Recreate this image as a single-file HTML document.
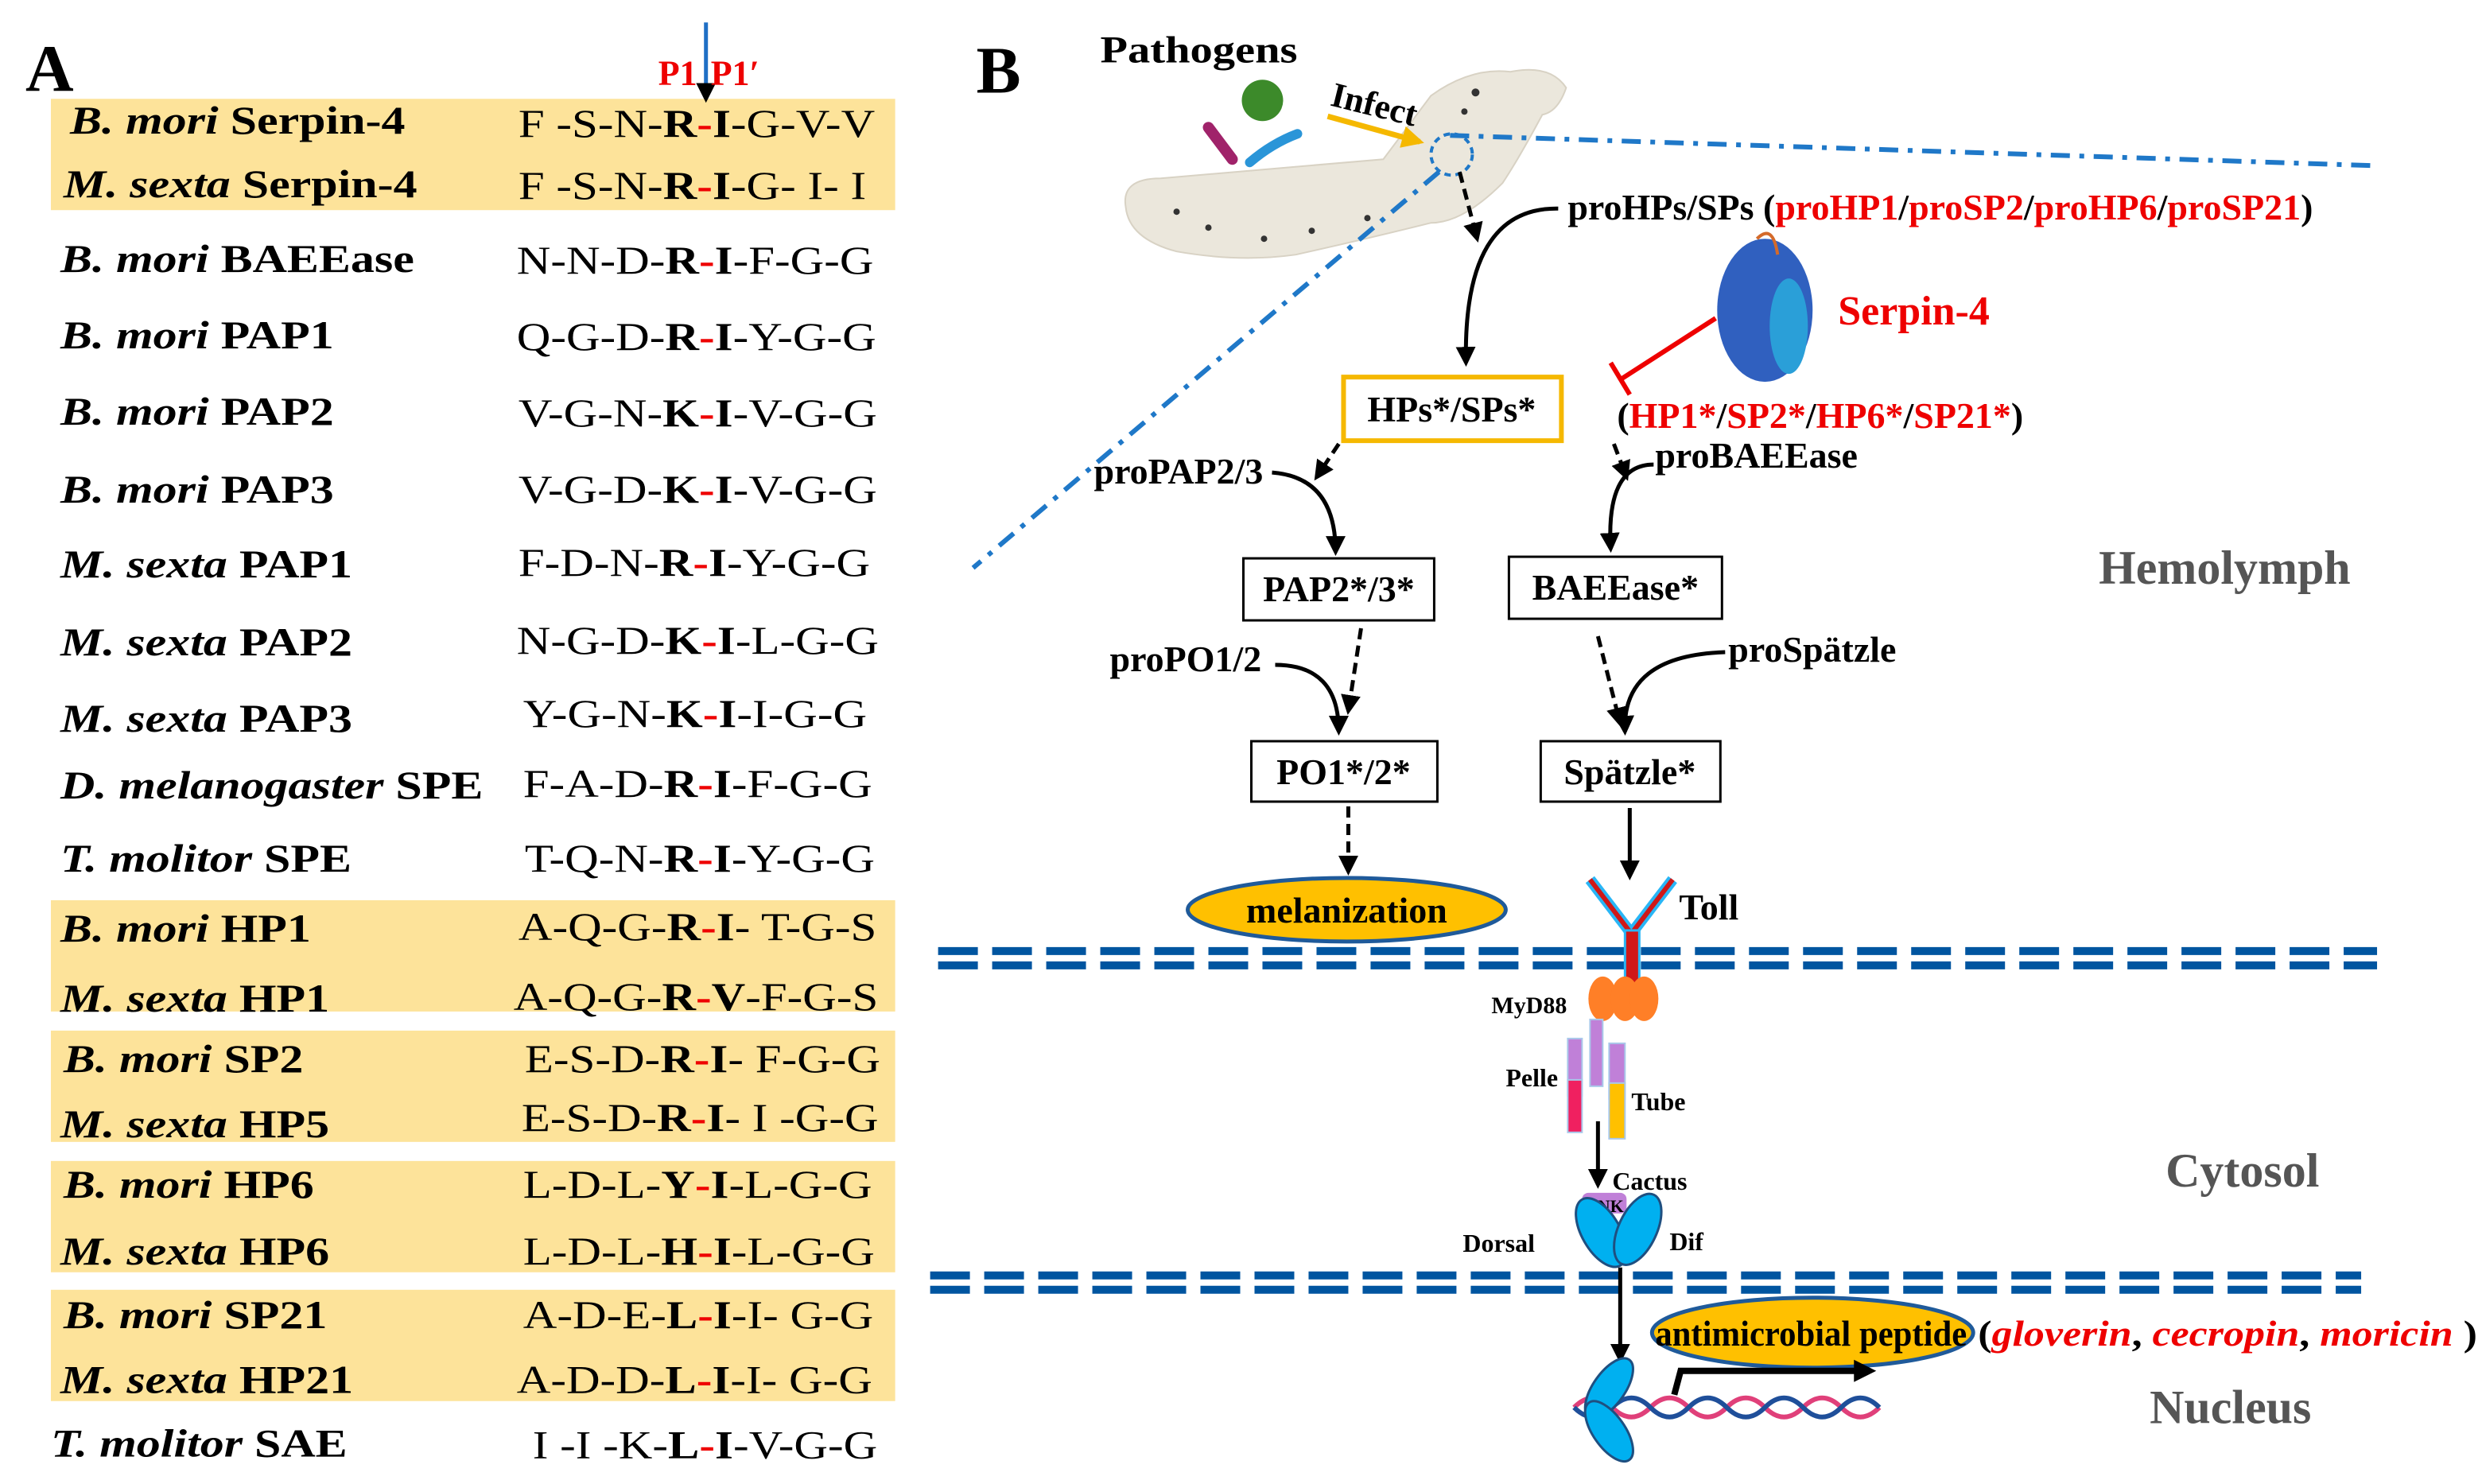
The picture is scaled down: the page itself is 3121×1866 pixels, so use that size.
<!DOCTYPE html>
<html><head><meta charset="utf-8"><style>
html,body{margin:0;padding:0;background:#fff;}
svg{display:block}
text{font-family:"Liberation Serif",serif;}
.b{font-weight:bold}
.lab{font-size:25px;font-weight:bold}
.seq{font-size:25px}
.r{fill:#e00}
.box{fill:#fff;stroke:#000;stroke-width:1.5}
.node{font-size:23px;font-weight:bold;text-anchor:middle}
.t{font-size:23px;font-weight:bold}
.g{font-size:30px;font-weight:bold;fill:#555}
</style></head><body>
<svg width="3121" height="1866" viewBox="0 0 1561 933" xmlns="http://www.w3.org/2000/svg">
<defs>
<marker id="ah" viewBox="0 0 10 10" refX="8" refY="5" markerWidth="5" markerHeight="5" orient="auto"><path d="M0,0L10,5L0,10z" fill="#000"/></marker>
<marker id="ao" viewBox="0 0 10 10" refX="8" refY="5" markerWidth="4" markerHeight="4" orient="auto"><path d="M0,0L10,5L0,10z" fill="#f5b800"/></marker>
</defs>
<!-- Panel A -->
<text x="16" y="57" font-size="42" class="b">A</text>
<g fill="#fde39a">
<rect x="32" y="62" width="531" height="70"/>
<rect x="32" y="566" width="531" height="70"/>
<rect x="32" y="648" width="531" height="70"/>
<rect x="32" y="730" width="531" height="70"/>
<rect x="32" y="811" width="531" height="70"/>
</g>
<line x1="444" y1="14" x2="444" y2="62" stroke="#1f6fc5" stroke-width="2.5" marker-end="url(#ah)"/>
<text x="414" y="53" font-size="22" font-weight="bold" fill="#e00">P1</text><text x="447" y="53" font-size="22" font-weight="bold" fill="#e00">P1′</text>
<g class="lab" transform="scale(1.2,1)">
<text x="36.7" y="84"><tspan font-style="italic">B. mori</tspan> Serpin-4</text>
<text x="33.3" y="124"><tspan font-style="italic">M. sexta</tspan> Serpin-4</text>
<text x="31.7" y="171"><tspan font-style="italic">B. mori</tspan> BAEEase</text>
<text x="31.7" y="219"><tspan font-style="italic">B. mori</tspan> PAP1</text>
<text x="31.7" y="267"><tspan font-style="italic">B. mori</tspan> PAP2</text>
<text x="31.7" y="316"><tspan font-style="italic">B. mori</tspan> PAP3</text>
<text x="31.7" y="363"><tspan font-style="italic">M. sexta</tspan> PAP1</text>
<text x="31.7" y="412"><tspan font-style="italic">M. sexta</tspan> PAP2</text>
<text x="31.7" y="460"><tspan font-style="italic">M. sexta</tspan> PAP3</text>
<text x="31.7" y="502"><tspan font-style="italic">D. melanogaster</tspan> SPE</text>
<text x="31.7" y="548"><tspan font-style="italic">T. molitor</tspan> SPE</text>
<text x="31.7" y="592"><tspan font-style="italic">B. mori</tspan> HP1</text>
<text x="31.7" y="636"><tspan font-style="italic">M. sexta</tspan> HP1</text>
<text x="33.3" y="674"><tspan font-style="italic">B. mori</tspan>  SP2</text>
<text x="31.7" y="715"><tspan font-style="italic">M. sexta</tspan> HP5</text>
<text x="33.3" y="753"><tspan font-style="italic">B. mori</tspan> HP6</text>
<text x="31.7" y="795"><tspan font-style="italic">M. sexta</tspan> HP6</text>
<text x="33.3" y="835"><tspan font-style="italic">B. mori</tspan> SP21</text>
<text x="31.7" y="876"><tspan font-style="italic">M. sexta</tspan> HP21</text>
<text x="26.7" y="916"><tspan font-style="italic">T. molitor</tspan> SAE</text>
</g>
<g class="seq" transform="scale(1.18,1)">
<text x="276.3" y="86">F -S-N-<tspan class="b">R</tspan><tspan class="b r">-</tspan><tspan class="b">I</tspan>-G-V-V</text>
<text x="276.3" y="125">F -S-N-<tspan class="b">R</tspan><tspan class="b r">-</tspan><tspan class="b">I</tspan>-G- I- I</text>
<text x="275.4" y="172">N-N-D-<tspan class="b">R</tspan><tspan class="b r">-</tspan><tspan class="b">I</tspan>-F-G-G</text>
<text x="275.4" y="220">Q-G-D-<tspan class="b">R</tspan><tspan class="b r">-</tspan><tspan class="b">I</tspan>-Y-G-G</text>
<text x="276.3" y="268">V-G-N-<tspan class="b">K</tspan><tspan class="b r">-</tspan><tspan class="b">I</tspan>-V-G-G</text>
<text x="276.3" y="316">V-G-D-<tspan class="b">K</tspan><tspan class="b r">-</tspan><tspan class="b">I</tspan>-V-G-G</text>
<text x="276.3" y="362">F-D-N-<tspan class="b">R</tspan><tspan class="b r">-</tspan><tspan class="b">I</tspan>-Y-G-G</text>
<text x="275.4" y="411">N-G-D-<tspan class="b">K</tspan><tspan class="b r">-</tspan><tspan class="b">I</tspan>-L-G-G</text>
<text x="278.8" y="457">Y-G-N-<tspan class="b">K</tspan><tspan class="b r">-</tspan><tspan class="b">I</tspan>-I-G-G</text>
<text x="278.8" y="501">F-A-D-<tspan class="b">R</tspan><tspan class="b r">-</tspan><tspan class="b">I</tspan>-F-G-G</text>
<text x="279.7" y="548">T-Q-N-<tspan class="b">R</tspan><tspan class="b r">-</tspan><tspan class="b">I</tspan>-Y-G-G</text>
<text x="276.3" y="591">A-Q-G-<tspan class="b">R</tspan><tspan class="b r">-</tspan><tspan class="b">I</tspan>- T-G-S</text>
<text x="273.7" y="635">A-Q-G-<tspan class="b">R</tspan><tspan class="b r">-</tspan><tspan class="b">V</tspan>-F-G-S</text>
<text x="279.7" y="674">E-S-D-<tspan class="b">R</tspan><tspan class="b r">-</tspan><tspan class="b">I</tspan>- F-G-G</text>
<text x="278" y="711">E-S-D-<tspan class="b">R</tspan><tspan class="b r">-</tspan><tspan class="b">I</tspan>- I -G-G</text>
<text x="278.8" y="753">L-D-L-<tspan class="b">Y</tspan><tspan class="b r">-</tspan><tspan class="b">I</tspan>-L-G-G</text>
<text x="278.8" y="795">L-D-L-<tspan class="b">H</tspan><tspan class="b r">-</tspan><tspan class="b">I</tspan>-L-G-G</text>
<text x="278.8" y="835">A-D-E-<tspan class="b">L</tspan><tspan class="b r">-</tspan><tspan class="b">I</tspan>-I- G-G</text>
<text x="275.4" y="876">A-D-D-<tspan class="b">L</tspan><tspan class="b r">-</tspan><tspan class="b">I</tspan>-I- G-G</text>
<text x="283.9" y="917">I -I -K-<tspan class="b">L</tspan><tspan class="b r">-</tspan><tspan class="b">I</tspan>-V-G-G</text>
</g>
<!-- Panel B -->
<text x="614" y="58" font-size="42" class="b">B</text>
<text x="692" y="39" font-size="24" class="b" textLength="124" lengthAdjust="spacingAndGlyphs">Pathogens</text>
<!-- silkworm -->
<path d="M708,130 Q705,112 730,112 L870,100 Q885,80 900,60 Q925,42 950,45 Q975,40 985,55 Q980,70 970,72 Q955,100 945,115 Q920,140 900,140 Q860,150 815,160 Q780,165 740,158 Q710,150 708,130Z" fill="#ebe7dc" stroke="#d8d2c4" stroke-width="1"/>
<g fill="#333"><circle cx="740" cy="133" r="2"/><circle cx="760" cy="143" r="2"/><circle cx="795" cy="150" r="2"/><circle cx="825" cy="145" r="2"/><circle cx="860" cy="137" r="2"/><circle cx="928" cy="58" r="2.5"/><circle cx="921" cy="70" r="2"/></g>
<circle cx="794" cy="63" r="13" fill="#3c8a2a"/>
<path d="M760,80 L775,100" stroke="#a0236a" stroke-width="7" stroke-linecap="round"/>
<path d="M786,102 Q800,90 816,84" stroke="#2a95d8" stroke-width="6" stroke-linecap="round" fill="none"/>
<line x1="835" y1="73" x2="893" y2="89" stroke="#f5b800" stroke-width="3.5" marker-end="url(#ao)"/>
<text x="836" y="66" font-size="22" class="b" transform="rotate(14 836 66)">Infect</text>
<circle cx="913" cy="97" r="13" fill="none" stroke="#1f78c8" stroke-width="2" stroke-dasharray="4,3"/>
<path d="M912,85 L1492,104" stroke="#1f78c8" stroke-width="3" stroke-dasharray="12,6,3,6" fill="none"/>
<path d="M905,108 L612,357" stroke="#1f78c8" stroke-width="3" stroke-dasharray="12,6,3,6" fill="none"/>
<line x1="918" y1="108" x2="929" y2="150" stroke="#000" stroke-width="2.5" stroke-dasharray="7,4" marker-end="url(#ah)"/>
<text x="986" y="138" class="t">proHPs/SPs (<tspan fill="#e00">proHP1</tspan>/<tspan fill="#e00">proSP2</tspan>/<tspan fill="#e00">proHP6</tspan>/<tspan fill="#e00">proSP21</tspan>)</text>
<path d="M980,131 Q920,130 922,228" stroke="#000" stroke-width="2.5" fill="none" marker-end="url(#ah)"/>
<g>
<ellipse cx="1110" cy="195" rx="30" ry="45" fill="#1a4fb8" opacity="0.9"/>
<ellipse cx="1125" cy="205" rx="12" ry="30" fill="#2a9fd8"/>
<path d="M1105,150 Q1115,140 1118,160" stroke="#d46a2a" stroke-width="2" fill="none"/>
</g>
<text x="1156" y="204" font-size="26" class="b" fill="#e00">Serpin-4</text>
<line x1="1079" y1="200" x2="1020" y2="238" stroke="#e00" stroke-width="3"/>
<line x1="1013" y1="228" x2="1025" y2="248" stroke="#e00" stroke-width="3"/>
<rect x="845" y="237" width="137" height="40" fill="#fff" stroke="#f5b800" stroke-width="3"/>
<text x="913" y="265" class="node">HPs*/SPs*</text>
<text x="1017" y="269" class="t">(<tspan fill="#e00">HP1*</tspan>/<tspan fill="#e00">SP2*</tspan>/<tspan fill="#e00">HP6*</tspan>/<tspan fill="#e00">SP21*</tspan>)</text>
<line x1="842" y1="279" x2="828" y2="300" stroke="#000" stroke-width="2.5" stroke-dasharray="7,4" marker-end="url(#ah)"/>
<text x="688" y="304" class="t">proPAP2/3</text>
<path d="M800,297 Q840,300 840,347" stroke="#000" stroke-width="2.5" fill="none" marker-end="url(#ah)"/>
<line x1="1015" y1="279" x2="1023" y2="300" stroke="#000" stroke-width="2.5" stroke-dasharray="7,4" marker-end="url(#ah)"/>
<text x="1041" y="294" class="t">proBAEEase</text>
<path d="M1040,292 Q1010,292 1013,345" stroke="#000" stroke-width="2.5" fill="none" marker-end="url(#ah)"/>
<rect x="782" y="351" width="120" height="39" class="box"/><text x="842" y="378" class="node">PAP2*/3*</text>
<rect x="949" y="350" width="134" height="39" class="box"/><text x="1016" y="377" class="node">BAEEase*</text>
<text x="1320" y="367" class="g">Hemolymph</text>
<text x="698" y="422" class="t">proPO1/2</text>
<line x1="856" y1="395" x2="848" y2="447" stroke="#000" stroke-width="2.5" stroke-dasharray="7,4" marker-end="url(#ah)"/>
<path d="M802,418 Q842,418 842,460" stroke="#000" stroke-width="2.5" fill="none" marker-end="url(#ah)"/>
<text x="1087" y="416" class="t">proSpätzle</text>
<line x1="1005" y1="400" x2="1019" y2="455" stroke="#000" stroke-width="2.5" stroke-dasharray="7,4" marker-end="url(#ah)"/>
<path d="M1085,410 Q1020,412 1022,460" stroke="#000" stroke-width="2.5" fill="none" marker-end="url(#ah)"/>
<rect x="787" y="466" width="117" height="38" class="box"/><text x="845" y="493" class="node">PO1*/2*</text>
<rect x="969" y="466" width="113" height="38" class="box"/><text x="1025" y="493" class="node">Spätzle*</text>
<line x1="848" y1="507" x2="848" y2="548" stroke="#000" stroke-width="2.5" stroke-dasharray="7,4" marker-end="url(#ah)"/>
<line x1="1025" y1="508" x2="1025" y2="551" stroke="#000" stroke-width="2.5" marker-end="url(#ah)"/>
<ellipse cx="847" cy="572" rx="100" ry="20" fill="#ffc000" stroke="#1f5a9a" stroke-width="2.5"/>
<text x="847" y="580" class="node">melanization</text>
<g stroke="#0055a0" stroke-width="5" stroke-dasharray="25,9">
<line x1="590" y1="598" x2="1495" y2="598"/><line x1="590" y1="607" x2="1495" y2="607"/>
<line x1="585" y1="802" x2="1485" y2="802"/><line x1="585" y1="811" x2="1485" y2="811"/>
</g>
<g stroke-linecap="butt">
<path d="M1000,553 L1026,587 L1052,553" fill="none" stroke="#29b6f6" stroke-width="7"/>
<path d="M1000,553 L1026,587 L1052,553" fill="none" stroke="#d01818" stroke-width="3"/>
<rect x="1022" y="585" width="9" height="40" fill="#d01818" stroke="#29b6f6" stroke-width="1.5"/>
</g>
<text x="1056" y="578" class="t" font-size="21">Toll</text>
<g fill="#ff7f27"><ellipse cx="1008" cy="628" rx="9" ry="14"/><ellipse cx="1022" cy="628" rx="9" ry="14"/><ellipse cx="1034" cy="628" rx="9" ry="14"/></g>
<text x="938" y="637" font-size="15" class="b">MyD88</text>
<g stroke="#a9c8ea" stroke-width="1">
<rect x="1000" y="641" width="8" height="42" fill="#c080d8"/>
<rect x="986" y="653" width="9" height="36" fill="#c080d8"/>
<rect x="986" y="679" width="9" height="33" fill="#f02060"/>
<rect x="1012" y="656" width="10" height="35" fill="#c080d8"/>
<rect x="1012" y="681" width="10" height="35" fill="#ffc000"/>
</g>
<text x="947" y="683" font-size="16" class="b">Pelle</text>
<text x="1026" y="698" font-size="16" class="b">Tube</text>
<line x1="1005" y1="705" x2="1005" y2="745" stroke="#000" stroke-width="2.5" marker-end="url(#ah)"/>
<text x="1014" y="748" font-size="16" class="b">Cactus</text>
<rect x="995" y="750" width="28" height="13" rx="4" fill="#c080d8"/>
<text x="1009" y="762" font-size="11" text-anchor="middle" class="b">ANK</text>
<ellipse cx="1007" cy="775" rx="12" ry="24" transform="rotate(-30 1007 775)" fill="#00b0f0" stroke="#1f4f80" stroke-width="1.5"/>
<ellipse cx="1030" cy="773" rx="12" ry="24" transform="rotate(25 1030 773)" fill="#00b0f0" stroke="#1f4f80" stroke-width="1.5"/>
<text x="920" y="787" font-size="16" class="b">Dorsal</text>
<text x="1050" y="786" font-size="16" class="b">Dif</text>
<text x="1362" y="746" class="g">Cytosol</text>
<line x1="1019" y1="797" x2="1019" y2="855" stroke="#000" stroke-width="2.5" marker-end="url(#ah)"/>
<ellipse cx="1140" cy="838" rx="101" ry="22" fill="#ffc000" stroke="#1f5a9a" stroke-width="2.5"/>
<text x="1139" y="846" class="node" font-size="23" textLength="196" lengthAdjust="spacingAndGlyphs">antimicrobial peptide</text>
<text x="1244" y="846" font-size="23" class="b" textLength="314" lengthAdjust="spacingAndGlyphs">(<tspan fill="#e00" font-style="italic">gloverin</tspan>, <tspan fill="#e00" font-style="italic">cecropin</tspan>, <tspan fill="#e00" font-style="italic">moricin</tspan> )</text>
<path d="M990,885 q12,-12 24,0 t24,0 t24,0 t24,0 t24,0 t24,0 t24,0 t24,0" stroke="#e0407a" stroke-width="3" fill="none"/>
<path d="M990,885 q12,12 24,0 t24,0 t24,0 t24,0 t24,0 t24,0 t24,0 t24,0" stroke="#1f4f9a" stroke-width="3" fill="none"/>
<ellipse cx="1012" cy="873" rx="10" ry="22" transform="rotate(35 1012 873)" fill="#00b0f0" stroke="#1f4f80" stroke-width="1.5"/>
<ellipse cx="1012" cy="900" rx="10" ry="22" transform="rotate(-35 1012 900)" fill="#00b0f0" stroke="#1f4f80" stroke-width="1.5"/>
<path d="M1053,877 L1057,862 L1168,862" stroke="#000" stroke-width="4" fill="none"/>
<path d="M1166,855 L1180,862 L1166,869z" fill="#000"/>
<text x="1352" y="895" class="g">Nucleus</text>
</svg>
</body></html>
